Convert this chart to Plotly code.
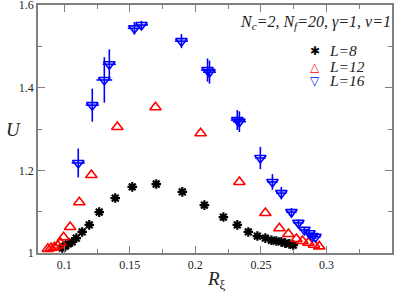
import plotly.graph_objects as go

# L=8 (black stars)
x8 = [0.0985, 0.1008, 0.1031, 0.1061, 0.1092, 0.1137, 0.1191, 0.1267, 0.1389, 0.1519,
      0.1702, 0.1901, 0.2069, 0.2214, 0.2320, 0.2404, 0.2473, 0.2534, 0.2580, 0.2618,
      0.2656, 0.2686, 0.2717, 0.2747]
y8 = [1.012, 1.017, 1.022, 1.027, 1.036, 1.051, 1.068, 1.099, 1.133, 1.160,
      1.167, 1.148, 1.116, 1.087, 1.068, 1.051, 1.041, 1.036, 1.031, 1.029,
      1.027, 1.024, 1.022, 1.019]

# L=12 (red up triangles)
x12 = [0.0875, 0.0900, 0.0925, 0.0950, 0.0970, 0.0995, 0.1045, 0.1115, 0.1207, 0.1405,
       0.1696, 0.2040, 0.2336, 0.2534, 0.2641, 0.2710, 0.2771, 0.2817, 0.2863, 0.2905, 0.2945]
y12 = [1.010, 1.012, 1.014, 1.018, 1.025, 1.038, 1.063, 1.123, 1.189, 1.305,
       1.353, 1.290, 1.172, 1.097, 1.060, 1.046, 1.034, 1.029, 1.025, 1.020, 1.016]

# L=16 (blue down triangles)
x16 = [0.1107, 0.1214, 0.1306, 0.1344, 0.1535, 0.1589, 0.1894, 0.2093, 0.2108, 0.2320,
       0.2336, 0.2496, 0.2588, 0.2656, 0.2733, 0.2786, 0.2832, 0.2870, 0.2893, 0.2916]
y16 = [1.218, 1.358, 1.419, 1.457, 1.544, 1.552, 1.513, 1.443, 1.438, 1.322,
       1.318, 1.230, 1.172, 1.145, 1.099, 1.073, 1.056, 1.048, 1.041, 1.039]
ey16 = [0.035, 0.040, 0.055, 0.036, 0.015, 0.010, 0.017, 0.028, 0.028, 0.024,
        0.025, 0.027, 0.019, 0.015, 0.010, 0.008, 0.007, 0.006, 0.005, 0.005]
ex16 = [0.005, 0.005, 0.006, 0.005, 0.005, 0.005, 0.005, 0.005, 0.005, 0.005,
        0.005, 0.004, 0.004, 0.004, 0.004, 0.004, 0.004, 0.004, 0.004, 0.004]

xticks = [0.1, 0.15, 0.2, 0.25, 0.3]
xticklabels = ["0.1", "0.15", "0.2", "0.25", "0.3"]
yticks = [1.0, 1.2, 1.4, 1.6]
yticklabels = ["1", "1.2", "1.4", "1.6"]

series_names = ["L=8", "L=12", "L=16"]
series_colors = ["black", "#ff0000", "#0000ff"]
legend_glyphs = ["✱", "<b>△</b>", "<b>▽</b>"]

serif = "Liberation Serif, Times New Roman, serif"
W, H = 395, 294
ML, MR, MT, MB = 38, 3, 5, 41
PW, PH = W - ML - MR, H - MT - MB


def px2paper(px, py):
    return (px - ML) / PW, (H - MB - py) / PH


fig = go.Figure()
fig.add_trace(go.Scatter(
    x=x8, y=y8, mode="markers", name=series_names[0],
    marker=dict(symbol="asterisk-open", size=8, color=series_colors[0],
                line=dict(color=series_colors[0], width=2.2)),
))
fig.add_trace(go.Scatter(
    x=x12, y=y12, mode="markers", name=series_names[1],
    marker=dict(symbol="triangle-up-open", size=10, color=series_colors[1],
                line=dict(color=series_colors[1], width=1.6)),
))
fig.add_trace(go.Scatter(
    x=x16, y=y16, mode="markers", name=series_names[2],
    marker=dict(symbol="triangle-down-open", size=10, color=series_colors[2],
                line=dict(color=series_colors[2], width=1.6)),
    error_y=dict(type="data", array=ey16, color=series_colors[2], thickness=1.6, width=0),
    error_x=dict(type="data", array=ex16, color=series_colors[2], thickness=1.6, width=0),
))

axis_common = dict(
    showgrid=False, zeroline=False, showline=True, linecolor="#808080", linewidth=1.5,
    mirror="ticks", ticks="inside", ticklen=7, tickwidth=1.2, tickcolor="#808080",
    tickfont=dict(family=serif, size=12, color="#222222"), automargin=False,
    ticklabeloverflow="allow",
)

annotations = []
# header text
hx, hy = px2paper(393, 22)
annotations.append(dict(
    x=hx, y=hy, xref="paper", yref="paper", xanchor="right", yanchor="middle",
    text="<i>N<sub>c</sub>=2, N<sub>f</sub>=20, γ=1, ν=1</i>", showarrow=False,
    font=dict(family=serif, size=16, color="#222222"),
))
# manual legend rows
for name, col, glyph, py in zip(series_names, series_colors, legend_glyphs, [51, 66, 81]):
    sx, sy = px2paper(315, py)
    annotations.append(dict(
        x=sx, y=sy, xref="paper", yref="paper", xanchor="center", yanchor="middle",
        text=glyph, showarrow=False, height=13,
        font=dict(family="DejaVu Sans", size=12, color=col),
    ))
    tx, ty = px2paper(327, py)
    annotations.append(dict(
        x=tx, y=ty, xref="paper", yref="paper", xanchor="left", yanchor="middle",
        text="<i>" + name + "</i>", showarrow=False, height=13,
        font=dict(family=serif, size=15.5, color="#222222"),
    ))
# axis titles
ux, uy = px2paper(13, 129)
annotations.append(dict(
    x=ux, y=uy, xref="paper", yref="paper", xanchor="center", yanchor="middle",
    text="<i>U</i>", showarrow=False, font=dict(family=serif, size=19, color="#222222"),
))
rx, ry = px2paper(216, 280)
annotations.append(dict(
    x=rx, y=ry, xref="paper", yref="paper", xanchor="center", yanchor="middle",
    text="<i>R</i><sub>ξ</sub>", showarrow=False, font=dict(family=serif, size=19, color="#222222"),
))

fig.update_layout(
    width=W, height=H,
    margin=dict(l=ML, r=MR, t=MT, b=MB),
    plot_bgcolor="white", paper_bgcolor="white",
    showlegend=False,
    xaxis=dict(range=[0.08, 0.35], tickvals=xticks, ticktext=xticklabels,
               minor=dict(dtick=0.025, tick0=0.075, ticks="inside", ticklen=4,
                          tickcolor="#808080", tickwidth=1.2),
               **axis_common),
    yaxis=dict(range=[1.0, 1.6005], tickvals=yticks, ticktext=yticklabels,
               minor=dict(dtick=0.1, tick0=1.0, ticks="inside", ticklen=4,
                          tickcolor="#808080", tickwidth=1.2),
               **axis_common),
    annotations=annotations,
)

fig.write_html(
    "out.html",
    config={"displayModeBar": False},
    post_script="document.body.style.margin='0';document.body.style.padding='0';"
                "document.documentElement.style.overflow='hidden';",
)
